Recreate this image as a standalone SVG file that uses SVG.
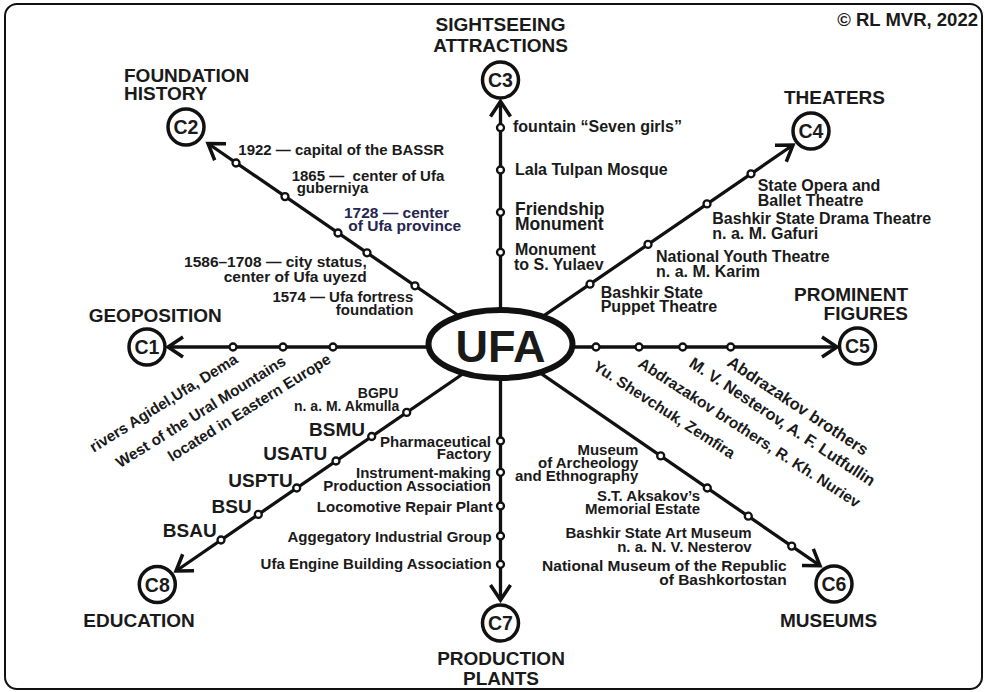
<svg xmlns="http://www.w3.org/2000/svg" width="985" height="692" viewBox="0 0 985 692">
<style>
text{font-family:"Liberation Sans",Arial,sans-serif;font-weight:bold;fill:#1a1a1a}
.h{font-size:19px}
.c{font-size:19.5px;text-anchor:middle}
.l{font-size:15px}
.m{font-size:16px}
.e{text-anchor:end}
.mid{text-anchor:middle}
.ln{stroke:#111;stroke-width:3.3;fill:none}
.st{fill:#fff;stroke:#111;stroke-width:2.3}
.node{fill:#fff;stroke:#111;stroke-width:3.5}
.navy{fill:#25254f}
</style>
<defs>
<marker id="arr" markerUnits="userSpaceOnUse" markerWidth="40" markerHeight="40" viewBox="-25 -20 30 40" refX="0" refY="0" orient="auto" overflow="visible">
<path d="M-15,-10 L0,0 L-15,10" fill="none" stroke="#111" stroke-width="3.5" stroke-linejoin="miter"/>
</marker>
</defs>
<rect x="5" y="4" width="977" height="685" rx="12" fill="#fff" stroke="#111" stroke-width="2"/>

<g id="connectors">
<line class="ln" x1="500.5" y1="347" x2="168" y2="347" marker-end="url(#arr)"/>
<line class="ln" x1="500.5" y1="344.5" x2="208" y2="143.5" marker-end="url(#arr)"/>
<line class="ln" x1="500.5" y1="344" x2="500.5" y2="101.5" marker-end="url(#arr)"/>
<line class="ln" x1="500.5" y1="345.5" x2="793" y2="145" marker-end="url(#arr)"/>
<line class="ln" x1="500.5" y1="347" x2="837" y2="347" marker-end="url(#arr)"/>
<line class="ln" x1="500.5" y1="345.5" x2="820" y2="565.7" marker-end="url(#arr)"/>
<line class="ln" x1="500.5" y1="344" x2="500.5" y2="600" marker-end="url(#arr)"/>
<line class="ln" x1="500.5" y1="348" x2="176" y2="571" marker-end="url(#arr)"/>
<g id="stations">
<circle class="st" cx="233" cy="347" r="3.5"/><circle class="st" cx="283" cy="347" r="3.5"/><circle class="st" cx="333" cy="347" r="3.5"/>
<circle class="st" cx="236" cy="163" r="3.5"/><circle class="st" cx="285" cy="196.6" r="3.5"/><circle class="st" cx="338" cy="233" r="3.5"/><circle class="st" cx="367" cy="252.8" r="3.5"/><circle class="st" cx="415" cy="285.8" r="3.5"/>
<circle class="st" cx="500.5" cy="127.7" r="3.5"/><circle class="st" cx="500.5" cy="170" r="3.5"/><circle class="st" cx="500.5" cy="212.3" r="3.5"/><circle class="st" cx="500.5" cy="252.3" r="3.5"/>
<circle class="st" cx="590" cy="284.2" r="3.5"/><circle class="st" cx="648" cy="244.4" r="3.5"/><circle class="st" cx="707" cy="203.9" r="3.5"/><circle class="st" cx="751" cy="173.8" r="3.5"/>
<circle class="st" cx="596" cy="347" r="3.5"/><circle class="st" cx="639" cy="347" r="3.5"/><circle class="st" cx="682.7" cy="347" r="3.5"/><circle class="st" cx="730.7" cy="347" r="3.5"/>
<circle class="st" cx="660.7" cy="455.9" r="3.5"/><circle class="st" cx="707.3" cy="488" r="3.5"/><circle class="st" cx="748.3" cy="516.2" r="3.5"/><circle class="st" cx="791.7" cy="546.1" r="3.5"/>
<circle class="st" cx="500.5" cy="441" r="3.5"/><circle class="st" cx="500.5" cy="472.3" r="3.5"/><circle class="st" cx="500.5" cy="506" r="3.5"/><circle class="st" cx="500.5" cy="536" r="3.5"/><circle class="st" cx="500.5" cy="564.3" r="3.5"/>
<circle class="st" cx="406.7" cy="412.4" r="3.5"/><circle class="st" cx="371.7" cy="436.5" r="3.5"/><circle class="st" cx="336" cy="461" r="3.5"/><circle class="st" cx="296.7" cy="488" r="3.5"/><circle class="st" cx="258.3" cy="514.4" r="3.5"/><circle class="st" cx="221" cy="540" r="3.5"/>
</g>
</g>

<g id="ufa">
<ellipse cx="500.5" cy="344" rx="72" ry="34" fill="#fff" stroke="#111" stroke-width="6"/>
<text x="500.5" y="362" class="mid" style="font-size:45px">UFA</text>
</g>

<g id="c1">
<circle class="node" cx="147" cy="347" r="18"/><text class="c" x="147" y="354">C1</text>
<text class="h e" x="221.7" y="321.7">GEOPOSITION</text>
</g>
<g id="c2">
<circle class="node" cx="186" cy="127" r="18"/><text class="c" x="186" y="134">C2</text>
<text class="h" x="124" y="81.7">FOUNDATION</text><text class="h" x="124" y="100">HISTORY</text>
</g>
<g id="c3">
<circle class="node" cx="500.5" cy="80" r="18"/><text class="c" x="500.5" y="87">C3</text>
<text class="h mid" x="500.5" y="30.7">SIGHTSEEING</text><text class="h mid" x="500.5" y="51.7">ATTRACTIONS</text>
</g>
<g id="c4">
<circle class="node" cx="811" cy="131" r="18"/><text class="c" x="811" y="138">C4</text>
<text class="h" x="784" y="104">THEATERS</text>
</g>
<g id="c5">
<circle class="node" cx="857.5" cy="346" r="18"/><text class="c" x="857.5" y="353">C5</text>
<text class="h e" x="908" y="300.7">PROMINENT</text><text class="h e" x="908" y="320">FIGURES</text>
</g>
<g id="c6">
<circle class="node" cx="834" cy="584" r="18"/><text class="c" x="834" y="591">C6</text>
<text class="h mid" x="828.5" y="626.7">MUSEUMS</text>
</g>
<g id="c7">
<circle class="node" cx="500.5" cy="623" r="18"/><text class="c" x="500.5" y="630">C7</text>
<text class="h mid" x="501" y="665">PRODUCTION</text><text class="h mid" x="501" y="685">PLANTS</text>
</g>
<g id="c8">
<circle class="node" cx="157.3" cy="584.5" r="18"/><text class="c" x="157.3" y="591.5">C8</text>
<text class="h" x="83.3" y="626.7">EDUCATION</text>
</g>

<text x="978" y="26" class="e" style="font-size:18.5px">© RL MVR, 2022</text>

<g id="labels-c1" style="font-size:15.3px">
<text class="e" transform="translate(239,362) rotate(-32)">rivers Agidel,Ufa, Dema</text>
<text class="e" transform="translate(287,364) rotate(-32)">West of the Ural Mountains</text>
<text class="e" transform="translate(332,362) rotate(-32)">located in Eastern Europe</text>
</g>
<g id="labels-c2" class="l">
<text x="238.3" y="155">1922 — capital of the BASSR</text>
<text x="291.7" y="180.7" xml:space="preserve">1865 —  center of Ufa</text>
<text x="296.7" y="193">guberniya</text>
<text class="navy" x="344" y="217.7" style="font-size:15.5px">1728 — center</text>
<text class="navy" x="348.3" y="231" style="font-size:15.5px">of Ufa province</text>
<text class="e" x="366.7" y="266.7" style="font-size:15.5px">1586–1708 — city status,</text>
<text class="e" x="366.7" y="281.5" style="font-size:15.5px">center of Ufa uyezd</text>
<text class="e" x="413.3" y="301.7">1574 — Ufa fortress</text>
<text class="e" x="413.3" y="315">foundation</text>
</g>
<g id="labels-c3" class="m">
<text x="513" y="131.5">fountain “Seven girls”</text>
<text x="515" y="175">Lala Tulpan Mosque</text>
<text x="515" y="215" style="font-size:17.5px">Friendship</text>
<text x="515" y="229.5" style="font-size:17.5px">Monument</text>
<text x="515" y="255">Monument</text>
<text x="514" y="269.5">to S. Yulaev</text>
</g>
<g id="labels-c4" class="m">
<text x="757.7" y="191">State Opera and</text>
<text x="757.7" y="206">Ballet Theatre</text>
<text x="712.3" y="224">Bashkir State Drama Theatre</text>
<text x="712.3" y="239.3">n. a. M. Gafuri</text>
<text x="656" y="262.3">National Youth Theatre</text>
<text x="656" y="277.3">n. a. M. Karim</text>
<text x="600.7" y="297.7">Bashkir State</text>
<text x="600.7" y="312.3">Puppet Theatre</text>
</g>
<g id="labels-c5" style="font-size:15.5px">
<text transform="translate(592,369) rotate(33)">Yu. Shevchuk, Zemfira</text>
<text transform="translate(637,366) rotate(33)">Abdrazakov brothers, R. Kh. Nuriev</text>
<text transform="translate(688,366) rotate(33.5)" style="font-size:16.2px">M. V. Nesterov, A. F. Lutfullin</text>
<text transform="translate(726,365) rotate(33.5)" style="font-size:16.5px">Abdrazakov brothers</text>
</g>
<g id="labels-c6" class="l">
<text class="e" x="638.3" y="455">Museum</text>
<text class="e" x="638.3" y="467.7">of Archeology</text>
<text class="e" x="638.3" y="481">and Ethnography</text>
<text class="e" x="700" y="501">S.T. Aksakov’s</text>
<text class="e" x="700" y="514.3">Memorial Estate</text>
<text class="e" x="751.7" y="537.7">Bashkir State Art Museum</text>
<text class="e" x="751.7" y="552.3">n. a. N. V. Nesterov</text>
<text class="e" x="786.7" y="570.7" style="font-size:15.5px">National Museum of the Republic</text>
<text class="e" x="786.7" y="585" style="font-size:15.5px">of Bashkortostan</text>
</g>
<g id="labels-c7" class="l">
<text class="e" x="491" y="446.7">Pharmaceutical</text>
<text class="e" x="491" y="459.3">Factory</text>
<text class="e" x="491" y="477.7">Instrument-making</text>
<text class="e" x="491" y="491">Production Association</text>
<text class="e" x="492.7" y="512.3">Locomotive Repair Plant</text>
<text class="e" x="491.7" y="542.3">Aggegatory Industrial Group</text>
<text class="e" x="491.7" y="569">Ufa Engine Building Association</text>
</g>
<g id="labels-c8">
<text class="e" x="398.3" y="398.3" style="font-size:14px">BGPU</text>
<text class="e" x="399.3" y="410.7" style="font-size:14px">n. a. M. Akmulla</text>
<text class="e h" x="365" y="436">BSMU</text>
<text class="e h" x="327.3" y="460">USATU</text>
<text class="e h" x="292.7" y="486.7">USPTU</text>
<text class="e h" x="251.7" y="512.7">BSU</text>
<text class="e h" x="216.7" y="536.7">BSAU</text>
</g>
</svg>
